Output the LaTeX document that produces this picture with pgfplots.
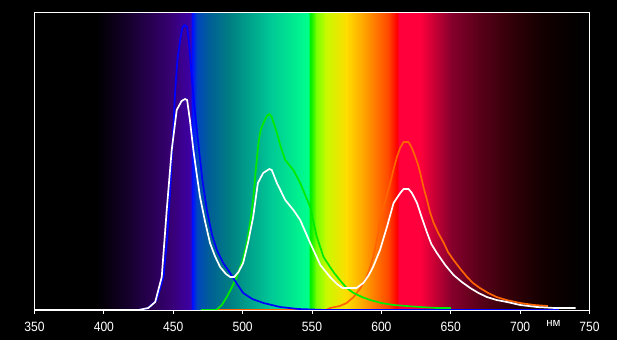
\documentclass[border=0pt]{standalone}
\usepackage{fontspec}
\setmainfont{Liberation Sans}
\usepackage{pgfplots}
\pgfplotsset{compat=1.18}
\definecolor{c350}{RGB}{0,0,0}
\definecolor{c395}{RGB}{0,0,0}
\definecolor{c420}{RGB}{25,0,50}
\definecolor{c448}{RGB}{55,0,115}
\definecolor{c462}{RGB}{62,0,165}
\definecolor{c464}{RGB}{0,20,255}
\definecolor{c467}{RGB}{0,70,190}
\definecolor{c476}{RGB}{0,95,150}
\definecolor{c490}{RGB}{0,125,130}
\definecolor{c520}{RGB}{0,200,150}
\definecolor{c547}{RGB}{0,255,140}
\definecolor{c549}{RGB}{0,240,0}
\definecolor{c553}{RGB}{120,255,0}
\definecolor{c560}{RGB}{200,250,0}
\definecolor{c575}{RGB}{255,220,0}
\definecolor{c590}{RGB}{255,150,0}
\definecolor{c605}{RGB}{255,70,0}
\definecolor{c611}{RGB}{255,0,0}
\definecolor{c613}{RGB}{255,0,60}
\definecolor{c628}{RGB}{255,0,60}
\definecolor{c650}{RGB}{135,0,45}
\definecolor{c670}{RGB}{90,0,25}
\definecolor{c690}{RGB}{55,0,10}
\definecolor{c715}{RGB}{20,0,0}
\definecolor{c740}{RGB}{3,0,0}
\definecolor{c750}{RGB}{0,0,0}
\definecolor{cblue}{RGB}{0,0,255}
\definecolor{cgreen}{RGB}{0,235,0}
\definecolor{corange}{RGB}{255,100,0}
\newcommand{\seg}[4]{\fill[left color=#3,right color=#4] (axis cs:#1,0) rectangle (axis cs:#2,297);}
\begin{document}
\begin{tikzpicture}
\fill[black] (-34.5bp,-30bp) rectangle (582.5bp,310bp);
\begin{axis}[
  at={(0,0)}, anchor=south west,
  scale only axis, width=555bp, height=297bp,
  xmin=350, xmax=750, ymin=0, ymax=297,
  axis line style={white, line width=1bp},
  xtick={350,400,...,750}, ytick=\empty,
  tick align=outside, xtick pos=bottom,
  major tick length=4bp,
  tick style={white, line width=1bp},
  xticklabel style={white, font=\fontsize{13.5}{13.5}\selectfont, xscale=0.9, yshift=-5bp},
  /pgf/number format/assume math mode=true,
  /pgf/number format/1000 sep={},
  axis on top, clip=false,
  every axis plot/.append style={line width=1.7bp, line join=round},
]
\seg{350}{395.3}{c350}{c395}
\seg{395}{420.3}{c395}{c420}
\seg{420}{448.3}{c420}{c448}
\seg{448}{462.3}{c448}{c462}
\seg{462}{464.3}{c462}{c464}
\seg{464}{467.3}{c464}{c467}
\seg{467}{476.3}{c467}{c476}
\seg{476}{490.3}{c476}{c490}
\seg{490}{520.3}{c490}{c520}
\seg{520}{547.3}{c520}{c547}
\seg{547}{549.3}{c547}{c549}
\seg{549}{553.3}{c549}{c553}
\seg{553}{560.3}{c553}{c560}
\seg{560}{575.3}{c560}{c575}
\seg{575}{590.3}{c575}{c590}
\seg{590}{605.3}{c590}{c605}
\seg{605}{611.3}{c605}{c611}
\seg{611}{613.3}{c611}{c613}
\seg{613}{628.3}{c613}{c628}
\seg{628}{650.3}{c628}{c650}
\seg{650}{670.3}{c650}{c670}
\seg{670}{690.3}{c670}{c690}
\seg{690}{715.3}{c690}{c715}
\seg{715}{740.3}{c715}{c740}
\seg{740}{750}{c740}{c750}
% orange
\addplot[corange] coordinates {
(470,0)(560,0)(563,2)(570,4)(575,7)(580,13)(585,22)(589,32)(592,43)(594.5,55)
(596.8,70)(599,88)(601.6,103)(604,115)(606.4,127)(609,142)(611.2,153)(613.5,162)
(616,168)(619.6,168)(622,162)(624.5,153)(626.5,145)(628,137)(630.5,122)(632.9,110)
(635,98)(637.7,87)(641,77)(645,67)(648,58)(652,50)(657,41)(661.8,33)(666,27)
(671,22)(677,17)(683,13)(690,10)(700,7)(710,5)(720,4)};
% green
\addplot[cgreen] coordinates {
(470,0)(481,0)(485,5)(488.6,13)(492,22)(495.8,33)(500,50)(503,67)(505.5,88)
(507.8,113)(509.5,140)(511.4,167)(513,180)(515,187)(517.5,194)(519.3,196)(521,193)
(524.7,177)(527.5,163)(530.7,150)(536.6,140)(541.5,127)(548.7,103)(553.5,73)
(558.3,53)(563,43)(566,37)(570,30)(575,22)(580,17)(586,13)(592,10)(600,7)
(608.8,5)(618,4)(628,3)(640,2)(650,2)};
% blue
\addplot[cblue] coordinates {
(425,0)(432,2)(438,10)(443,33)(445.5,70)(447.7,117)(450,180)(451.3,217)(453,250)
(455,270)(456.5,282)(458,285)(460,283)(461.5,265)(463.3,233)(465.5,200)(468,167)
(471,130)(474.2,100)(478,75)(481.4,60)(486,47)(491,37)(496,26)(500.4,17)(507,11)
(515,7)(527,3)(540,1)(560,0)(728,0)};
% white (sum)
\addplot[white] coordinates {
(350,0)(425,0)(432,2)(437,8)(441.7,33)(445.3,100)(448.9,160)(452.5,200)(456,209)
(458.5,211)(460,210)(462,190)(464.5,160)(467,135)(469.3,113)(473,88)(476.5,67)
(480,54)(483.8,43)(488,36)(491,33)(494,33)(497,38)(500.4,47)(504,68)(507.6,93)
(511,127)(514.8,137)(519.3,141)(521,140)(524.7,127)(530.7,110)(536.6,100)
(541.5,90)(548.7,67)(556,45)(563,33)(568,26)(572,22)(577,22)(582,22)(587,27)
(591,35)(594,43)(599,60)(604,83)(608.8,107)(613.6,117)(616,121)(619.6,121)
(622,117)(625.7,107)(629,93)(633,77)(636,66)(640,57)(646,45)(652,35)(658,28)
(664,22)(670,17)(676,13)(683,10)(690.6,8)(700,5)(712,3)(725,2)(740,2)};
\node[white, font=\fontsize{11.5}{11.5}\selectfont, inner sep=0pt] at (axis cs:724,0) [yshift=-13bp] {нм};
\end{axis}
\end{tikzpicture}
\end{document}
